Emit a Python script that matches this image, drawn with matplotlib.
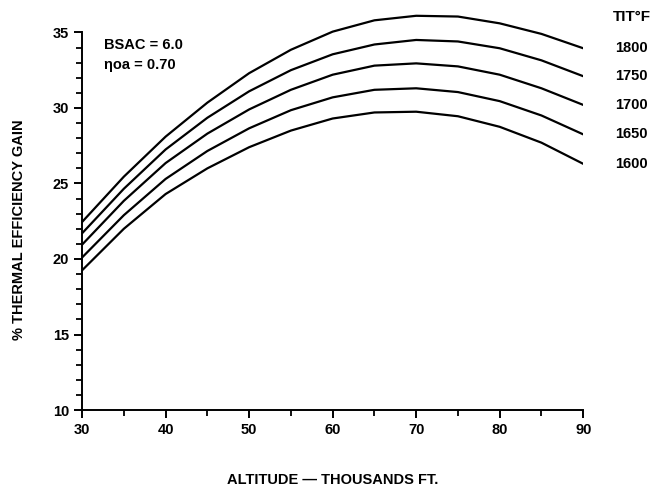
import matplotlib
matplotlib.use("Agg")
import matplotlib.pyplot as plt
from matplotlib.ticker import MultipleLocator

plt.rcParams['font.family'] = ['Liberation Sans', 'DejaVu Sans']
plt.rcParams['font.weight'] = 'bold'

# altitude, thousands ft
altitude = [30, 35, 40, 45, 50, 55, 60, 65, 70, 75, 80, 85, 90]

# % thermal efficiency gain, one list per turbine inlet temperature
gain_1800 = [22.45, 25.45, 28.1, 30.35, 32.3, 33.85, 35.05, 35.8, 36.1, 36.05, 35.6, 34.9, 33.95]
gain_1750 = [21.7, 24.65, 27.25, 29.35, 31.1, 32.5, 33.55, 34.2, 34.5, 34.4, 33.95, 33.15, 32.1]
gain_1700 = [20.95, 23.85, 26.35, 28.3, 29.9, 31.2, 32.2, 32.8, 32.95, 32.75, 32.2, 31.3, 30.2]
gain_1650 = [20.1, 22.9, 25.3, 27.15, 28.65, 29.85, 30.7, 31.2, 31.3, 31.05, 30.45, 29.5, 28.25]
gain_1600 = [19.25, 22.0, 24.3, 26.0, 27.4, 28.5, 29.3, 29.7, 29.75, 29.45, 28.75, 27.7, 26.3]

tit_labels = ['1800', '1750', '1700', '1650', '1600']
series = [gain_1800, gain_1750, gain_1700, gain_1650, gain_1600]

fig = plt.figure(figsize=(6.62, 4.87), dpi=100)
ax = fig.add_axes([0.124, 0.158, 0.757, 0.822])

for vals, lab in zip(series, tit_labels):
    ax.plot(altitude, vals, color='black', lw=1.6, solid_joinstyle='round')
    ax.text(95.8, vals[-1], lab, fontsize=10.5, fontweight='bold', ha='center', va='center', clip_on=False)

ax.text(95.8, 36.0, 'TIT°F', fontsize=11, fontweight='bold', ha='center', va='center', clip_on=False)
ax.text(32.6, 34.16, 'BSAC = 6.0', fontsize=10.5, fontweight='bold', ha='left', va='center')
ax.text(32.6, 32.85, 'ηoa = 0.70', fontsize=10.5, fontweight='bold', ha='left', va='center')

ax.set_xlim(30, 90)
ax.set_ylim(10, 36.5)
ax.spines['top'].set_visible(False)
ax.spines['right'].set_visible(False)
ax.spines['left'].set_bounds(10, 35)
ax.spines['left'].set_linewidth(1.4)
ax.spines['bottom'].set_linewidth(1.4)

ax.xaxis.set_major_locator(MultipleLocator(10))
ax.xaxis.set_minor_locator(MultipleLocator(5))
ax.set_yticks([10, 15, 20, 25, 30, 35])
ax.set_yticks([v for v in range(10, 36) if v % 5], minor=True)
ax.tick_params(which='major', length=6, width=1.4, labelsize=10.5)
ax.tick_params(which='minor', length=4, width=1.3)
for t in ax.get_xticklabels() + ax.get_yticklabels():
    t.set_fontweight('bold')

ax.set_xlabel('ALTITUDE — THOUSANDS FT.', fontsize=10.5, fontweight='bold', labelpad=26)
ax.set_ylabel('% THERMAL EFFICIENCY GAIN', fontsize=10.5, fontweight='bold')
ax.yaxis.set_label_coords(-0.112, 0.45)

fig.savefig('out.png', dpi=100)
